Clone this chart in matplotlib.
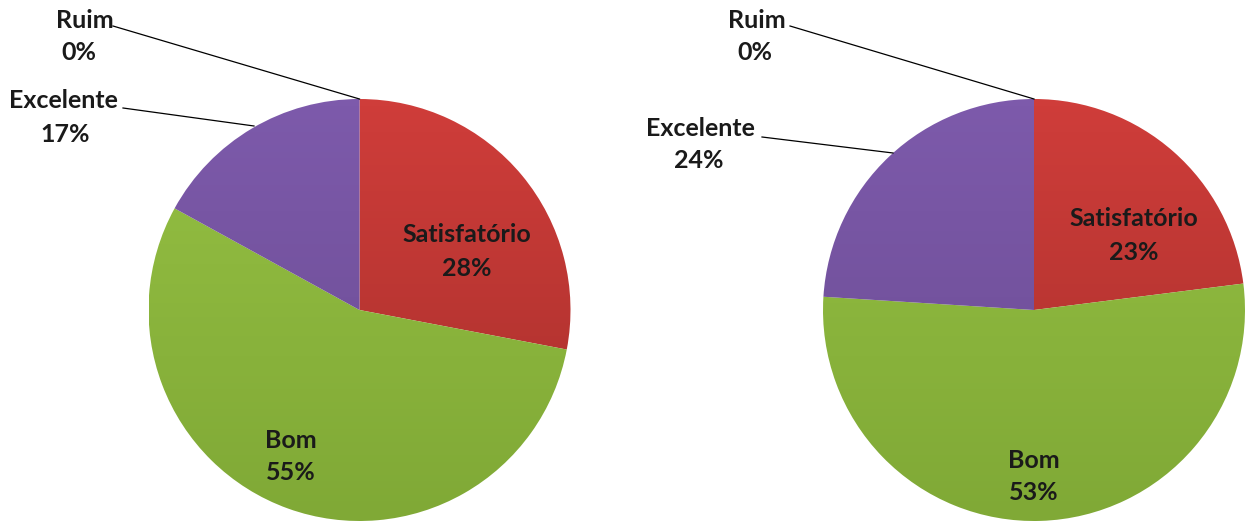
import matplotlib
matplotlib.use('Agg')
import matplotlib.pyplot as plt
import numpy as np
from matplotlib.colors import LinearSegmentedColormap

# categories in drawing order (clockwise from the top)
labels = ['Satisfatório', 'Bom', 'Excelente', 'Ruim']
left_vals = [28, 55, 17, 0]
right_vals = [23, 53, 24, 0]

# gradient colours (top, bottom) per category
grad = [('#cf3d3a', '#a62f2b'), ('#95c043', '#80a936'), ('#7d5aab', '#6a4b91'), ('#888888', '#888888')]

plt.rcParams['font.family'] = ['Lato', 'DejaVu Sans']

fig = plt.figure(figsize=(12.48, 5.24), dpi=100)
ax = fig.add_axes([0, 0, 1, 1])

R = 211
H = 524


def draw_pie(vals, cx, cy):
    wedges, _ = ax.pie(vals, startangle=90, counterclock=False, center=(cx, cy),
                       radius=R, frame=True, wedgeprops=dict(linewidth=0))
    for w, (c1, c2) in zip(wedges, grad):
        cmap = LinearSegmentedColormap.from_list('g', [c2, c1])
        g = np.linspace(0, 1, 64).reshape(-1, 1)
        im = ax.imshow(g, cmap=cmap, origin='lower', aspect='auto',
                       extent=[cx - R, cx + R, cy - R, cy + R], zorder=2)
        im.set_clip_path(w)
        w.set_facecolor('none')
    return wedges


draw_pie(left_vals, 359.5, H - 310)
draw_pie(right_vals, 1034, H - 310)
ax.set_xlim(0, 1248)
ax.set_ylim(0, H)
ax.set_aspect('auto')
ax.axis('off')

kw = dict(fontsize=18, fontweight='bold', ha='center', va='center', color='#1a1a1a', zorder=5)


def label(x1, y1, x2, y2, name, val):
    ax.text(x1, H - y1, name, **kw)
    ax.text(x2, H - y2, f'{val}%', **kw)


# left pie labels
label(467, 235, 467, 269, labels[0], left_vals[0])
label(291, 440, 291, 472, labels[1], left_vals[1])
label(63, 101, 65, 134, labels[2], left_vals[2])
label(85, 20, 79, 52, labels[3], left_vals[3])
ax.plot([123, 254], [H - 108, H - 126], color='black', lw=0.9, zorder=6)
ax.plot([113, 359.5], [H - 26, H - 99], color='black', lw=0.9, zorder=6)

# right pie labels
label(1134, 218, 1134, 252, labels[0], right_vals[0])
label(1034, 460, 1034, 493, labels[1], right_vals[1])
label(700, 129, 699, 161, labels[2], right_vals[2])
label(757, 20, 755, 52, labels[3], right_vals[3])
ax.plot([762, 893], [H - 137, H - 153], color='black', lw=0.9, zorder=6)
ax.plot([790, 1034], [H - 26, H - 99], color='black', lw=0.9, zorder=6)

fig.savefig('out.png', dpi=100)
